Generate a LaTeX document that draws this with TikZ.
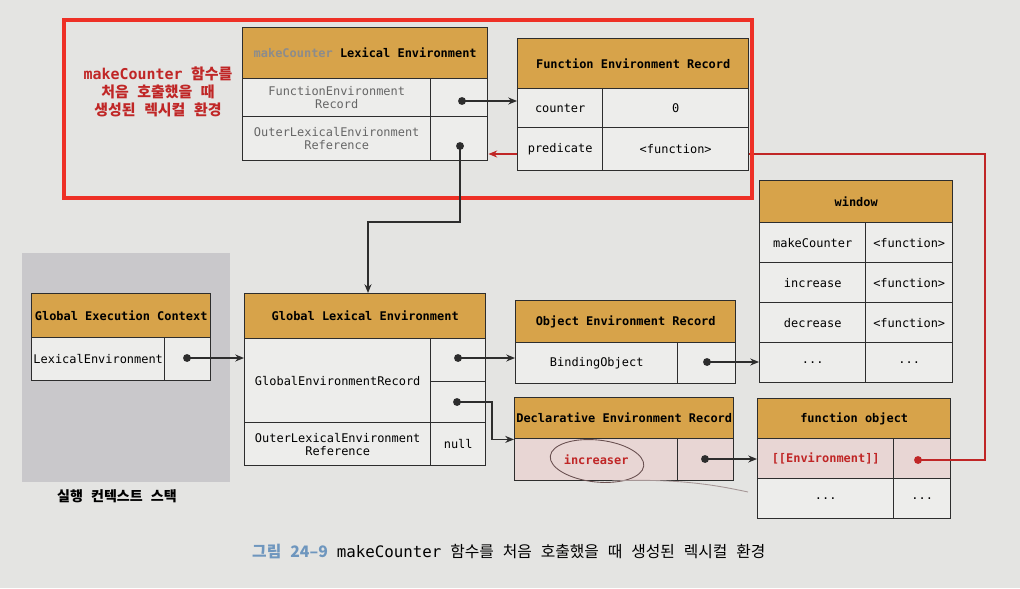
\documentclass[tikz,border=0pt]{standalone}
\usepackage{fontspec}
\setmonofont{DejaVu Sans Mono}
\newfontfamily\kr{Noto Sans CJK KR}
\newfontfamily\krwide{Noto Sans CJK KR}[WordSpace=2.5]
\usetikzlibrary{arrows.meta,positioning,calc}

\definecolor{paper}{RGB}{228,228,226}
\definecolor{gold}{RGB}{215,163,74}
\definecolor{cellbg}{RGB}{237,237,235}
\definecolor{pinkbg}{RGB}{232,214,212}
\definecolor{linec}{RGB}{45,45,45}
\definecolor{hilite}{RGB}{238,48,38}
\definecolor{envred}{RGB}{192,38,38}
\definecolor{stackbg}{RGB}{201,200,203}
\definecolor{capblue}{RGB}{110,150,190}
\definecolor{pen}{RGB}{105,80,80}

\pgfdeclarelayer{paperlayer}
\pgfdeclarelayer{behind}
\pgfsetlayers{paperlayer,behind,main}

\newcommand\etcdots{.{}.{}.}

\tikzset{
  box/.style 2 args={draw=linec, line width=0.8pt, anchor=north west, inner sep=0pt,
    minimum width=#1*0.02cm, minimum height=#2*0.02cm, align=center},
  hdr/.style={fill=gold, font=\ttfamily\bfseries\fontsize{6.8}{7.6}\selectfont},
  cell/.style={fill=cellbg, font=\ttfamily\fontsize{6.8}{7.6}\selectfont},
  pcell/.style={fill=pinkbg, text=envred, font=\ttfamily\bfseries\fontsize{6.8}{7.6}\selectfont},
  dot/.style={circle, fill=linec, inner sep=0pt, minimum size=4.5pt},
  ptr/.style={-{Stealth[length=5pt,width=4pt]}, line width=0.7pt, draw=linec},
}

\begin{document}
\begin{tikzpicture}[x=0.02cm, y=-0.02cm]
  % page and stack area
  \begin{pgfonlayer}{paperlayer}
    \fill[paper] (0,0) rectangle (1020,588);
    \fill[stackbg] (22,253) rectangle (230,482);
  \end{pgfonlayer}

  % makeCounter lexical environment
  \node[box={245}{51}, hdr] (mkh) at (242,27) {{\color{black!45}makeCounter} Lexical Environment};
  \node[box={188}{38}, cell, text=black!60] (mk1a) at (242,78) {FunctionEnvironment\\Record};
  \node[box={57}{38}, cell] (mk1b) at (430,78) {};
  \node[box={188}{44}, cell, text=black!60] (mk2a) at (242,116) {OuterLexicalEnvironment\\Reference};
  \node[box={57}{44}, cell] (mk2b) at (430,116) {};

  % function environment record
  \node[box={231}{50}, hdr] (ferh) at (517,38) {Function Environment Record};
  \node[box={85}{39}, cell] (fer1a) at (517,88) {counter};
  \node[box={146}{39}, cell] (fer1b) at (602,88) {0};
  \node[box={85}{43}, cell] (fer2a) at (517,127) {predicate};
  \node[box={146}{43}, cell] (fer2b) at (602,127) {<function>};

  % red frame + label
  \draw[hilite, line width=2.3pt] (64,20) rectangle (752,198);
  \node[text=envred, align=center, font=\krwide\bfseries\fontsize{8.5}{10.2}\selectfont] (mklbl) at (158,92)
    {{\ttfamily makeCounter} 함수를\\처음 호출했을 때\\생성된 렉시컬 환경};

  % execution context stack
  \node[box={179}{44}, hdr] (gech) at (31,293) {Global Execution Context};
  \node[box={133}{43}, cell] (geca) at (31,337) {LexicalEnvironment};
  \node[box={46}{43}, cell] (gecb) at (164,337) {};
  \node[font=\kr\bfseries\fontsize{8}{9}\selectfont] (stacklbl) at (117,496) {실행 컨텍스트 스택};

  % global lexical environment
  \node[box={241}{45}, hdr] (gleh) at (244,293) {Global Lexical Environment};
  \node[box={186}{84}, cell] (glerec) at (244,338) {GlobalEnvironmentRecord};
  \node[box={55}{43}, cell] (gle1) at (430,338) {};
  \node[box={55}{41}, cell] (gle2) at (430,381) {};
  \node[box={186}{43}, cell] (gleout) at (244,422) {OuterLexicalEnvironment\\Reference};
  \node[box={55}{43}, cell] (glenull) at (430,422) {null};

  % object / declarative records
  \node[box={220}{42}, hdr] (oerh) at (515,300) {Object Environment Record};
  \node[box={162}{41}, cell] (oera) at (515,342) {BindingObject};
  \node[box={58}{41}, cell] (oerb) at (677,342) {};
  \node[box={219}{41}, hdr] (derh) at (514,397) {Declarative Environment Record};
  \node[box={163}{42}, pcell] (dera) at (514,438) {increaser};
  \node[box={56}{42}, pcell] (derb) at (677,438) {};

  % window object
  \node[box={193}{42}, hdr] (winh) at (759,180) {window};
  \foreach \i/\k/\v in {0/makeCounter/{<function>}, 1/increase/{<function>}, 2/decrease/{<function>}, 3/\etcdots/\etcdots} {
    \node[box={106}{40}, cell] (win-\i-k) at (759,{222+40*\i}) {\k};
    \node[box={87}{40}, cell] (win-\i-v) at (865,{222+40*\i}) {\v};
  }

  % function object
  \node[box={193}{40}, hdr] (foh) at (757,398) {function object};
  \node[box={136}{40}, pcell] (foenv) at (757,438) {[[Environment]]};
  \node[box={57}{40}, pcell] (foenvv) at (893,438) {};
  \node[box={136}{40}, cell] (fomore) at (757,478) {\etcdots};
  \node[box={57}{40}, cell] (fomorev) at (893,478) {\etcdots};

  % pointer dots
  \node[dot] (mk1d) at (462,101) {};
  \node[dot] (mk2d) at (460,146) {};
  \node[dot] (gecd) at (187,358) {};
  \node[dot] (gle1d) at (458,358) {};
  \node[dot] (gle2d) at (457,402) {};
  \node[dot] (oerd) at (707,362) {};
  \node[dot] (derd) at (705,459) {};
  \node[dot, fill=envred] (fod) at (918,460) {};

  % pointers
  \coordinate (outerturn) at (368,222);
  \coordinate (declturn) at (492,402);
  \coordinate (envturn) at (985,154);
  \draw[ptr] (mk1d.center) -- (mk1d.center -| fer1a.west);
  \draw[ptr] (mk2d.center) |- (outerturn) -- (outerturn |- gleh.north);
  \draw[ptr] (gecd.center) -- (gecd.center -| glerec.west);
  \draw[ptr] (gle1d.center) -- (gle1d.center -| oera.west);
  \draw[ptr] (gle2d.center) -- (declturn) |- (derh.south west);
  \draw[ptr] (oerd.center) -- (oerd.center -| win-3-k.west);
  \draw[ptr] (derd.center) -- (derd.center -| foenv.west);
  % [[Environment]] runs behind the function environment record
  \draw[envred, line width=0.6pt] (fod.center) -- (fod.center -| foenvv.east);
  \begin{pgfonlayer}{behind}
    \draw[ptr, draw=envred, line width=0.6pt] (fod.center) -| (envturn) -- (envturn -| mk2b.east);
  \end{pgfonlayer}

  % pen mark round increaser
  \draw[pen, line width=0.5pt, rotate around={-6:(597,461)}] (597,461) ellipse [x radius=0.94cm, y radius=0.42cm];
  \draw[pen!60, line width=0.5pt] (612,481) .. controls (680,478) and (720,486) .. (748,492);

  % caption
  \node[anchor=west, font=\kr\fontsize{9}{10}\selectfont] (cap) at (246,551)
    {\textcolor{capblue}{\bfseries 그림 24–9} {\ttfamily makeCounter} 함수를 처음 호출했을 때 생성된 렉시컬 환경};
\end{tikzpicture}
\end{document}
